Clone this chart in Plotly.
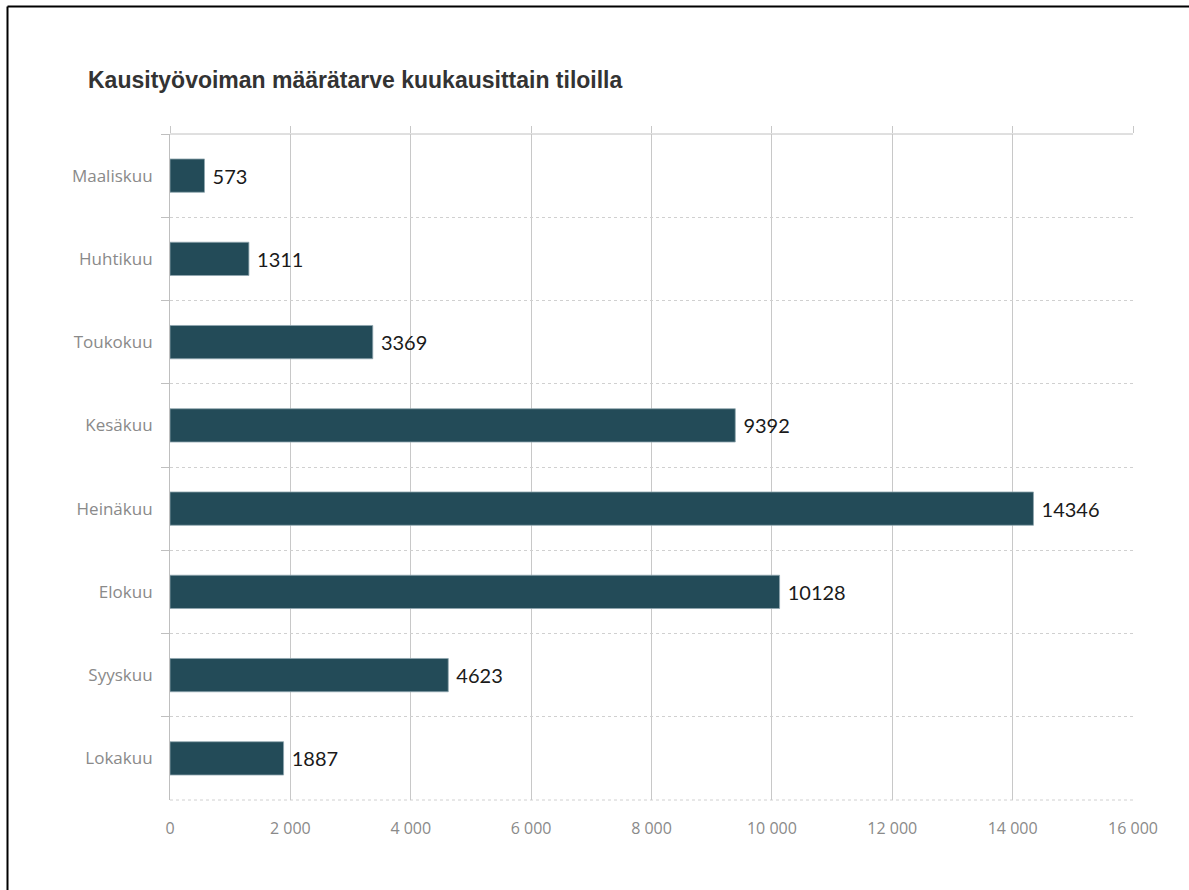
import plotly.graph_objects as go

months = ["Maaliskuu", "Huhtikuu", "Toukokuu", "Kesäkuu", "Heinäkuu", "Elokuu", "Syyskuu", "Lokakuu"]
values = [573, 1311, 3369, 9392, 14346, 10128, 4623, 1887]
x_tick_vals = [0, 2000, 4000, 6000, 8000, 10000, 12000, 14000, 16000]
x_tick_text = ["0", "2 000", "4 000", "6 000", "8 000", "10 000", "12 000", "14 000", "16 000"]
title_text = "Kausityövoiman määrätarve kuukausittain tiloilla"

W, H = 1189, 890
L, R, T, B = 170, 56, 134, 90
pw, ph = W - L - R, H - T - B

fig = go.Figure(go.Bar(
    x=values, y=months, orientation="h",
    marker=dict(color="#234B58", line=dict(color="#8fa6ae", width=0.8)),
    text=["\u00a0" + str(v) for v in values],
    textposition="outside",
    textfont=dict(family="Lato, Open Sans, sans-serif", size=20, color="#1a1a1a"),
    cliponaxis=False,
    hoverinfo="skip",
))
# invisible companion trace so the top tick axis is drawn
fig.add_trace(go.Scatter(x=values, y=months, xaxis="x2", mode="none",
                         hoverinfo="skip", showlegend=False))

def px_x(p):
    return (p - L) / pw

def px_y(p):
    return (H - B - p) / ph

frame_x = px_x(7.5)
frame_y = px_y(6.5)

grid_h = "#d0d0d0"
grid_v = "#c8c8c8"

fig.update_layout(
    width=W, height=H,
    margin=dict(l=L, r=R, t=T, b=B, pad=0),
    paper_bgcolor="white", plot_bgcolor="white",
    bargap=0.6,
    showlegend=False,
    title=dict(text="<b>" + title_text + "</b>", x=88 / W, xanchor="left",
               y=1 - 80 / H, yanchor="middle",
               font=dict(family="Liberation Sans, Arial, sans-serif", size=23, color="#333333")),
    xaxis=dict(range=[0, 16000], tickvals=x_tick_vals, ticktext=x_tick_text,
               showgrid=True, gridcolor=grid_v, gridwidth=1,
               zeroline=False, showline=False,
               ticks="", ticklabelstandoff=17,
               tickfont=dict(family="Open Sans, Lato, sans-serif", size=16, color="#8a8a8a")),
    xaxis2=dict(range=[0, 16000], tickvals=x_tick_vals, overlaying="x", side="top",
                showgrid=False, zeroline=False, showline=False, showticklabels=False,
                ticks="outside", ticklen=7, tickcolor=grid_v, tickwidth=1),
    yaxis=dict(type="category", autorange="reversed", tickson="boundaries",
               showgrid=True, gridcolor=grid_h, griddash="dot", gridwidth=1,
               showline=True, linecolor="#bfbfbf", linewidth=1,
               ticks="outside", ticklen=8, tickcolor="#bfbfbf",
               ticklabelstandoff=13,
               tickfont=dict(family="Open Sans, Lato, sans-serif", size=17, color="#8a8a8a")),
    shapes=[
        dict(type="line", xref="paper", yref="paper", x0=0, x1=1, y0=1, y1=1,
             line=dict(color="#c0c0c0", width=1), layer="below"),
        dict(type="line", xref="paper", yref="paper", x0=0, x1=1, y0=0, y1=0,
             line=dict(color=grid_h, width=1, dash="dot"), layer="below"),
        dict(type="line", xref="paper", yref="paper", x0=frame_x, x1=frame_x,
             y0=px_y(H + 20), y1=frame_y, line=dict(color="black", width=2)),
        dict(type="line", xref="paper", yref="paper", x0=frame_x, x1=px_x(W + 20),
             y0=frame_y, y1=frame_y, line=dict(color="black", width=2)),
    ],
)

fig.write_html("out.html", config={"displayModeBar": False},
               post_script="document.body.style.margin='0';document.body.style.overflow='hidden';")
